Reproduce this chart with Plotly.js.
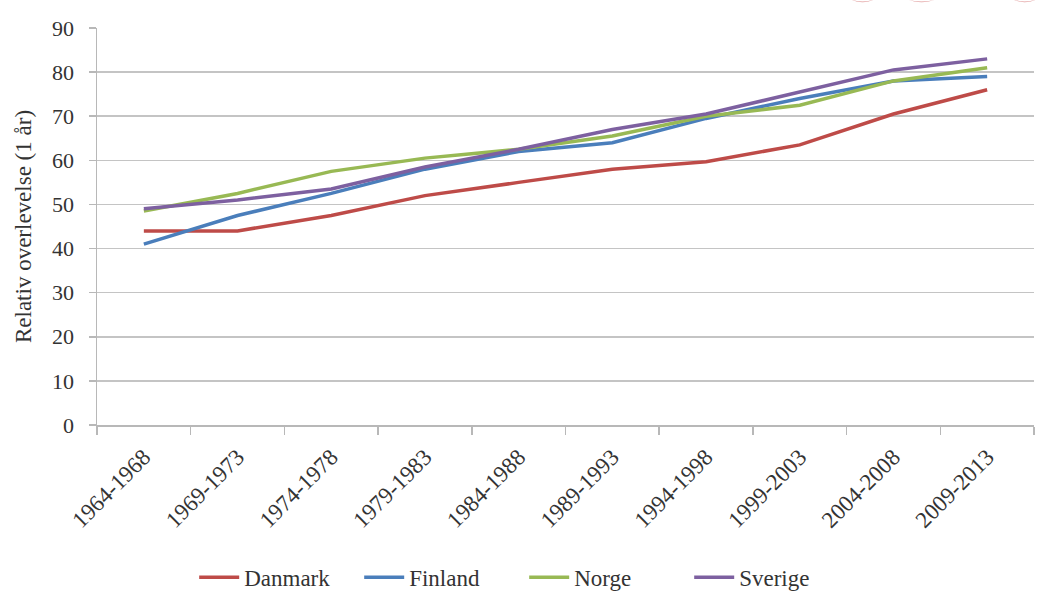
<!DOCTYPE html>
<html>
<head>
<meta charset="utf-8">
<script src="https://cdn.plot.ly/plotly-3.0.1.min.js"></script>
<style>
  html, body { margin: 0; padding: 0; background: #ffffff; }
  #chart { width: 1038px; height: 592px; }
</style>
</head>
<body>
<div id="chart"></div>
<script>
// Five-year periods
const periods = [
  "1964-1968", "1969-1973", "1974-1978", "1979-1983", "1984-1988",
  "1989-1993", "1994-1998", "1999-2003", "2004-2008", "2009-2013"
];

// Relative survival (1 year), per country
const danmark = [44, 44, 47.5, 52, 55, 58, 59.7, 63.5, 70.5, 76];
const finland = [41, 47.5, 52.5, 58, 62, 64, 69.5, 74, 78, 79];
const norge   = [48.5, 52.5, 57.5, 60.5, 62.5, 65.5, 70, 72.5, 78, 81];
const sverige = [49, 51, 53.5, 58.5, 62.5, 67, 70.5, 75.5, 80.5, 83];

const yTicks = [0, 10, 20, 30, 40, 50, 60, 70, 80, 90];

const serif = "Liberation Serif, Times New Roman, serif";

function series(name, values, color) {
  return {
    type: "scatter",
    mode: "lines",
    name: name,
    x: periods,
    y: values,
    line: { color: color, width: 3.5 },
    hoverinfo: "x+y+name"
  };
}

const traces = [
  series("Danmark", danmark, "#BE4B48"),
  series("Finland", finland, "#4A7EBB"),
  series("Norge", norge, "#98B954"),
  series("Sverige", sverige, "#7D60A0")
];

// Faint logo remnants along the top edge
const logoBits = [
  { x0: 0.802, x1: 0.832 },
  { x0: 0.862, x1: 0.898 },
  { x0: 0.975, x1: 1.005 }
].map(b => ({
  type: "path",
  xref: "paper", yref: "paper",
  path: `M ${b.x0} 1.075 Q ${(b.x0 + b.x1) / 2} 1.055 ${b.x1} 1.075 L ${b.x1 - 0.004} 1.071 Q ${(b.x0 + b.x1) / 2} 1.062 ${b.x0 + 0.004} 1.071 Z`,
  line: { width: 0 },
  fillcolor: "rgba(214,120,120,0.75)"
}));

const layout = {
  width: 1038,
  height: 592,
  margin: { l: 97, r: 4, t: 28, b: 167 },
  paper_bgcolor: "#ffffff",
  plot_bgcolor: "#ffffff",
  font: { family: serif, color: "#333333", size: 21 },
  showlegend: true,
  legend: {
    orientation: "h",
    xref: "container", yref: "container",
    x: 0.505, xanchor: "center",
    y: 0.025, yanchor: "middle",
    font: { family: serif, size: 23, color: "#333333" },
    itemwidth: 40,
    entrywidth: 110,
    entrywidthmode: "pixels",
    tracegroupgap: 0
  },
  xaxis: {
    type: "category",
    tickangle: -45,
    tickson: "boundaries",
    ticks: "outside",
    ticklen: 8,
    tickcolor: "#b8b8b8",
    tickwidth: 1.5,
    ticklabelstandoff: 8,
    showline: true,
    linecolor: "#b8b8b8",
    linewidth: 1.5,
    showgrid: false,
    zeroline: false,
    range: [-0.5, 9.5],
    tickfont: { family: serif, size: 23, color: "#333333" },
    automargin: false
  },
  yaxis: {
    range: [0, 90],
    tickvals: yTicks,
    ticktext: yTicks.map(String),
    ticks: "outside",
    ticklen: 7,
    tickcolor: "#b8b8b8",
    tickwidth: 1.5,
    ticklabelstandoff: 10,
    showline: true,
    linecolor: "#b8b8b8",
    linewidth: 1.5,
    showgrid: true,
    gridcolor: "#c4c4c4",
    gridwidth: 1.6,
    zeroline: false,
    tickfont: { family: serif, size: 22, color: "#333333" },
    title: {
      text: "Relativ overlevelse (1 år)",
      font: { family: serif, size: 23, color: "#333333" },
      standoff: 14
    },
    automargin: false
  },
  shapes: logoBits
};

Plotly.newPlot("chart", traces, layout, { displayModeBar: false, staticPlot: true });
</script>
</body>
</html>
